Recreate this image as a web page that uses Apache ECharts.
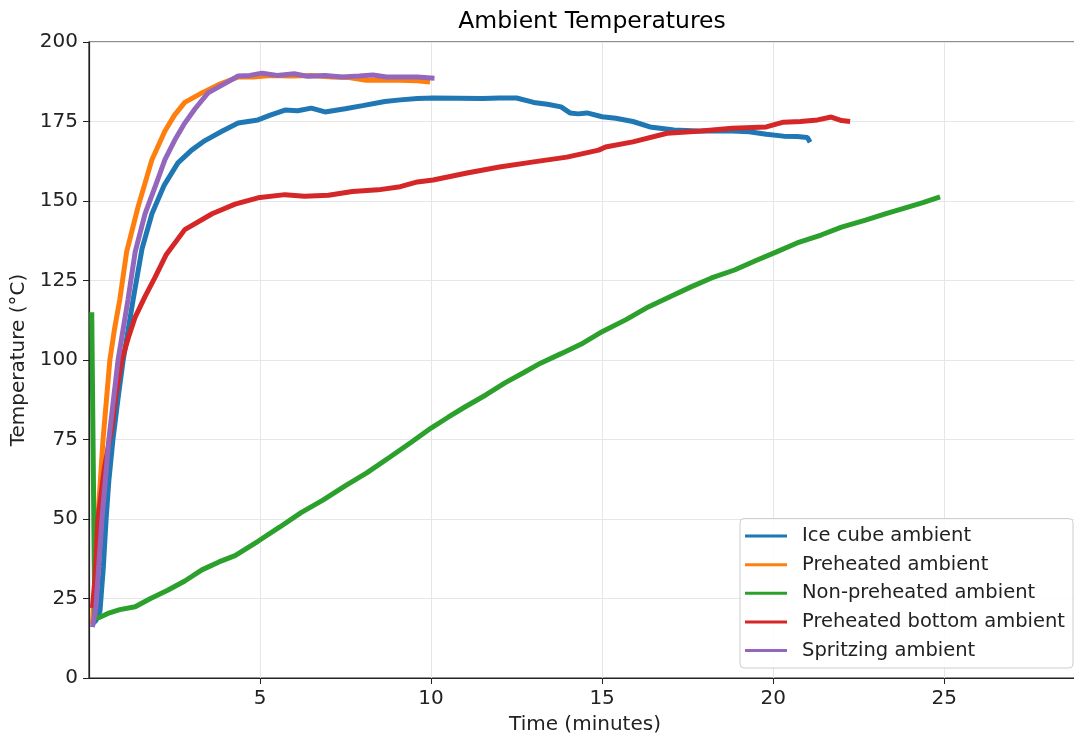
<!DOCTYPE html>
<html>
<head>
<meta charset="utf-8">
<title>Ambient Temperatures</title>
<script src="https://cdn.jsdelivr.net/npm/echarts@6/dist/echarts.min.js"></script>
<style>
  html, body { margin: 0; padding: 0; background: #fff; }
  #chart { width: 1074px; height: 738px; }
</style>
</head>
<body>
<div id="chart"></div>
<script>
// [time (minutes), temperature (°C)]
const iceCube = [[0.1,17],[0.2,18],[0.32,21],[0.42,35],[0.5,50],[0.58,62],[0.7,75],[0.85,88],[1.0,100],[1.29,119],[1.55,135],[1.84,146],[2.2,155],[2.6,162],[3.0,166],[3.39,169],[3.9,172],[4.36,174.5],[4.94,175.5],[5.3,177],[5.73,178.6],[6.1,178.4],[6.5,179.2],[6.9,178],[7.49,179],[8.0,180],[8.65,181.3],[9.1,181.8],[9.6,182.2],[10.06,182.4],[10.8,182.3],[11.5,182.2],[12.0,182.4],[12.5,182.4],[13.0,181],[13.4,180.4],[13.8,179.6],[14.06,177.7],[14.3,177.4],[14.56,177.7],[15.0,176.5],[15.4,176],[15.9,175],[16.4,173.3],[17.1,172.3],[17.8,172],[18.8,172],[19.3,171.8],[19.8,171],[20.3,170.4],[20.7,170.3],[21.0,170],[21.08,168.5]];
const preheated = [[0.1,17],[0.18,30],[0.26,50],[0.41,75],[0.61,100],[0.75,110],[0.9,119],[1.1,134],[1.43,148],[1.84,163],[2.22,172],[2.5,177],[2.8,181],[3.3,184],[3.77,186.5],[4.36,189],[4.8,189],[5.3,189.5],[5.9,189.3],[6.5,189.5],[7.1,189],[7.6,188.8],[8.1,188],[8.6,188],[9.1,188],[9.6,187.8],[9.97,187.4]];
const nonPreheated = [[0.08,115],[0.17,19],[0.3,19],[0.6,20.5],[0.9,21.5],[1.35,22.4],[1.8,25],[2.3,27.6],[2.8,30.5],[3.3,34],[3.8,36.5],[4.27,38.5],[4.94,43],[5.58,47.5],[6.2,52],[6.85,56],[7.5,60.5],[8.12,64.5],[8.8,69.5],[9.4,74],[10.0,78.6],[10.5,82],[11.0,85.3],[11.6,89],[12.16,92.8],[12.7,96],[13.2,99],[13.8,102],[14.44,105.3],[15.0,108.9],[15.7,112.7],[16.35,116.7],[17.0,120],[17.6,123],[18.2,125.8],[18.87,128.3],[19.5,131.3],[20.1,134],[20.7,136.8],[21.4,139.3],[22.0,141.8],[22.7,144],[23.3,146],[23.94,148.1],[24.4,149.6],[24.88,151.3]];
const preheatedBottom = [[0.1,22],[0.18,32],[0.26,50],[0.45,66],[0.67,79],[0.8,90],[0.96,100],[1.15,107],[1.35,113.5],[1.64,120],[1.93,126],[2.25,133],[2.8,141],[3.6,146],[4.27,149],[4.94,151],[5.73,152],[6.3,151.5],[7.0,151.8],[7.7,153],[8.45,153.5],[9.1,154.5],[9.6,156],[10.06,156.6],[11.05,158.8],[12.0,160.7],[13.0,162.3],[13.97,163.8],[14.9,166],[15.1,167],[15.9,168.6],[16.9,171.3],[17.9,172],[18.8,172.9],[19.8,173.3],[20.3,174.8],[20.8,175],[21.3,175.5],[21.7,176.4],[22.0,175.3],[22.25,175]];
const spritzing = [[0.1,16],[0.2,22],[0.38,50],[0.58,75],[0.85,100],[1.14,119],[1.35,134],[1.64,146],[1.95,155],[2.22,163],[2.5,169],[2.8,174.5],[3.1,179],[3.48,184],[3.98,187],[4.36,189.3],[4.7,189.5],[5.06,190.2],[5.5,189.5],[6.0,190],[6.4,189.2],[6.9,189.5],[7.4,189],[7.9,189.3],[8.3,189.6],[8.7,189],[9.2,189],[9.6,189],[10.1,188.6]];

const seriesNames = ['Ice cube ambient', 'Preheated ambient', 'Non-preheated ambient', 'Preheated bottom ambient', 'Spritzing ambient'];
const seriesData = [iceCube, preheated, nonPreheated, preheatedBottom, spritzing];
const colors = ['#1f77b4', '#ff7f0e', '#2ca02c', '#d62728', '#9467bd'];

const font = 'DejaVu Sans';
const chart = echarts.init(document.getElementById('chart'));
chart.setOption({
  animation: false,
  color: colors,
  title: {
    text: 'Ambient Temperatures',
    left: 587,
    top: 5,
    textAlign: 'center',
    textStyle: { fontFamily: font, fontSize: 23.5, fontWeight: 'normal', color: '#000' }
  },
  grid: {
    left: 89, top: 42, width: 992, height: 636,
    outerBoundsMode: 'none',
    containLabel: false,
    show: true, borderColor: '#222', borderWidth: 1.2
  },
  legend: {
    orient: 'vertical',
    right: 1,
    bottom: 70,
    icon: 'rect',
    itemWidth: 42,
    itemHeight: 3,
    itemGap: 7.6,
    padding: [7, 8, 7, 5],
    backgroundColor: 'rgba(255,255,255,0.85)',
    borderColor: '#cccccc',
    borderWidth: 1,
    borderRadius: 4,
    textStyle: { fontFamily: font, fontSize: 19.5, lineHeight: 21, color: '#222', padding: [0, 0, 0, 10] },
    data: seriesNames
  },
  xAxis: {
    type: 'value',
    min: 0,
    max: 29,
    interval: 5,
    name: 'Time (minutes)',
    nameLocation: 'middle',
    nameGap: 37,
    nameTextStyle: { fontFamily: font, fontSize: 20, color: '#222' },
    axisLine: { show: true, lineStyle: { color: '#222', width: 1.2 } },
    axisTick: { show: true, length: 6, lineStyle: { color: '#222' } },
    axisLabel: {
      fontFamily: font, fontSize: 20, color: '#222', margin: 11,
      showMinLabel: false, showMaxLabel: false,
      formatter: v => (v > 0 && v % 5 === 0) ? String(v) : ''
    },
    splitLine: { show: true, lineStyle: { color: '#e6e6e6', width: 1 } }
  },
  yAxis: {
    type: 'value',
    min: 0,
    max: 200,
    interval: 25,
    name: 'Temperature (°C)',
    nameLocation: 'middle',
    nameGap: 53,
    nameTextStyle: { fontFamily: font, fontSize: 20, color: '#222' },
    axisLine: { show: true, lineStyle: { color: '#222', width: 1.2 } },
    axisTick: { show: true, length: 6, lineStyle: { color: '#222' } },
    axisLabel: { fontFamily: font, fontSize: 20, color: '#222', margin: 11 },
    splitLine: { show: true, lineStyle: { color: '#e6e6e6', width: 1 } }
  },
  series: seriesNames.map((name, i) => ({
    name: name,
    type: 'line',
    data: seriesData[i],
    showSymbol: false,
    symbol: 'none',
    lineStyle: { width: 5, color: colors[i] },
    itemStyle: { color: colors[i] }
  }))
});
</script>
</body>
</html>
